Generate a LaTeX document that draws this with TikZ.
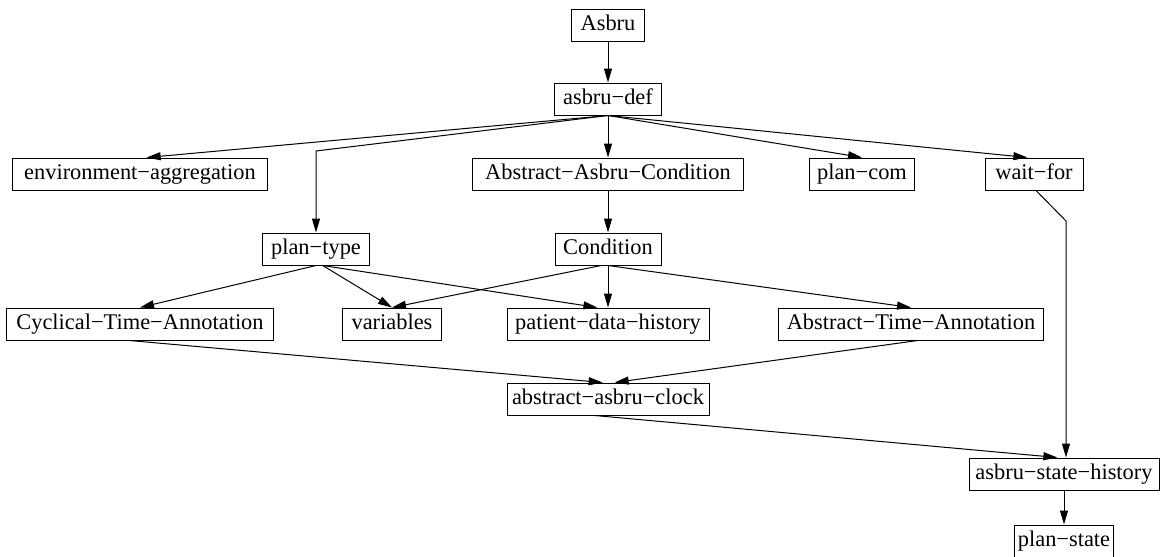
\documentclass[tikz,border=0pt]{standalone}
\usepackage{fontspec}
\setmainfont{Liberation Serif}
\usetikzlibrary{arrows.meta}

\tikzset{
  box/.style={draw, rectangle, line width=0.75pt, inner sep=0pt,
    text height=12pt, text depth=4pt,
    minimum height=24pt, font=\fontsize{16.8}{18}\selectfont},
  edge/.style={line width=0.75pt, -{Triangle[length=10.5pt,width=6pt]}},
}

% name, position (px), width (px), text
\newcommand{\bnode}[4]{
    \node[box, minimum width=#3*0.75pt] (#1) at (#2) {#4};
}

\newcommand{\bedge}[2]{
    \draw[edge] (#1.south) -- (#2.north);
}

\begin{document}
\begin{tikzpicture}[x=0.75pt, y=-0.75pt]
\useasboundingbox (0,0) rectangle (1161,557);

% nodes, one row per rank
\bnode{asbru}{608,25}{73}{Asbru}
\bnode{def}{608,99}{107}{asbru−def}

\bnode{envagg}{140,174}{255}{environment−aggregation}
\bnode{abscond}{608,174}{271}{Abstract−Asbru−Condition}
\bnode{plancom}{862,174}{105}{plan−com}
\bnode{waitfor}{1034,174}{98}{wait−for}

\bnode{plantype}{316,249}{107}{plan−type}
\bnode{cond}{608,249}{106}{Condition}

\bnode{cyclical}{140,324}{267}{Cyclical−Time−Annotation}
\bnode{vars}{392,324}{99}{variables}
\bnode{patient}{608,324}{202}{patient−data−history}
\bnode{abstime}{911,324}{265}{Abstract−Time−Annotation}

\bnode{clock}{608,399}{202}{abstract−asbru−clock}
\bnode{history}{1064,474}{190}{asbru−state−history}
\bnode{planstate}{1064,541}{99}{plan−state}

% bends
\coordinate (tbend) at (316,151);
\coordinate (wbend) at (1066,221);

% edges
\bedge{asbru}{def}
\draw[edge] (def.south) -- ([xshift=5pt]envagg.north);
\draw[edge] (def.south) -- (tbend) -- (plantype.north);
\bedge{def}{abscond}
\bedge{def}{plancom}
\draw[edge] (def.south) -- ([xshift=-5pt]waitfor.north);
\bedge{abscond}{cond}

\draw[edge] (plantype.south) -- (cyclical.north);
\draw[edge] ([xshift=5pt]plantype.south) -- (vars.north);
\draw[edge] ([xshift=5pt]plantype.south) -- ([xshift=-8pt]patient.north);
\draw[edge] ([xshift=-5pt]cond.south) -- (vars.north);
\bedge{cond}{patient}
\draw[edge] (cond.south) -- (abstime.north);

\draw[edge] ([xshift=-8pt]cyclical.south) -- ([xshift=-4pt]clock.north);
\draw[edge] ([xshift=5pt]abstime.south) -- ([xshift=5pt]clock.north);

\draw[edge] ([xshift=-10pt]clock.south) -- ([xshift=-5pt]history.north);
\draw[edge] ([xshift=1.5pt]waitfor.south) -- (wbend) -- ([xshift=1.5pt]history.north);
\bedge{history}{planstate}
\end{tikzpicture}
\end{document}
